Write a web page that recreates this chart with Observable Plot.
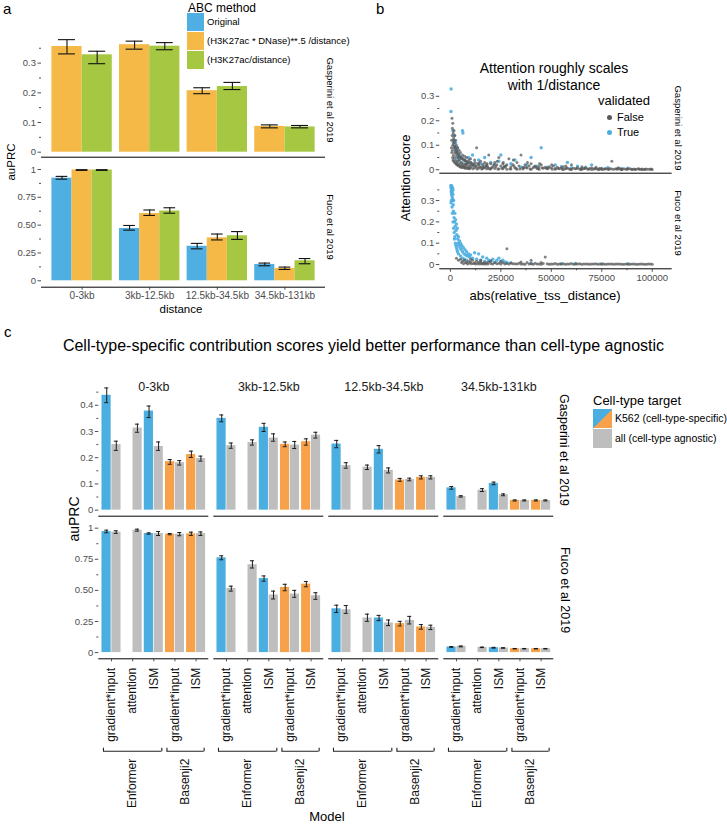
<!DOCTYPE html>
<html><head><meta charset="utf-8">
<script src="https://cdn.jsdelivr.net/npm/d3@7"></script>
<script src="https://cdn.jsdelivr.net/npm/@observablehq/plot@0.6"></script>
<style>
body{margin:0;background:#fff;}
#fig{position:relative;width:727px;height:828px;overflow:hidden;font-family:"Liberation Sans",Arial,Helvetica,sans-serif;color:#000;background:#fff;}
#fig svg{position:absolute;left:0;}
.t{position:absolute;white-space:nowrap;line-height:1;}
.sw{position:absolute;}
</style></head><body><div id="fig"></div><script>
// ================= DATA =================
const distances = ["0-3kb","3kb-12.5kb","12.5kb-34.5kb","34.5kb-131kb"];
// ---- panel a ----
const aMethods = ["Original","(H3K27ac * DNase)**.5 /distance)","(H3K27ac/distance)"];
const aColors = ["#4FAFE3","#F5B947","#A5C742"];
// Gasperini et al 2019 (no "Original")
const aGasDnaseMean = [0.356,0.362,0.207,0.087];
const aGasDnaseLo   = [0.331,0.347,0.197,0.082];
const aGasDnaseHi   = [0.379,0.374,0.217,0.092];
const aGasH3Mean    = [0.328,0.357,0.221,0.085];
const aGasH3Lo      = [0.298,0.345,0.211,0.082];
const aGasH3Hi      = [0.340,0.369,0.235,0.090];
// Fuco et al 2019
const aFucOrigMean  = [0.922,0.470,0.310,0.147];
const aFucOrigLo    = [0.913,0.455,0.287,0.135];
const aFucOrigHi    = [0.938,0.497,0.336,0.159];
const aFucDnaseMean = [0.995,0.605,0.386,0.111];
const aFucDnaseLo   = [0.992,0.587,0.367,0.102];
const aFucDnaseHi   = [0.998,0.636,0.420,0.123];
const aFucH3Mean    = [0.995,0.627,0.405,0.180];
const aFucH3Lo      = [0.992,0.607,0.372,0.153];
const aFucH3Hi      = [0.998,0.656,0.442,0.200];
const aGasTicks = [0,0.1,0.2,0.3], aGasTickLabels = ["0","0.1","0.2","0.3"];
const aGasMinor = [0.05,0.15,0.25,0.35];
const aFucTicks = [0,0.25,0.5,0.75,1], aFucTickLabels = ["0","0.25","0.50","0.75","1"];
const aFucMinor = [0.125,0.375,0.625,0.875];

// ---- panel b (x in thousands of bp, y attention score) ----
const bGasFalse = [[0.6,0.12],[0.8,0.21],[0.9,0.14],[1.0,0.17],[1.0,0.08],[1.2,0.19],[1.2,0.10],[1.4,0.15],[1.5,0.06],[1.6,0.13],[1.8,0.16],[1.8,0.09],[2.0,0.11],[2.0,0.05],[2.2,0.14],[2.2,0.07],[2.4,0.09],[2.5,0.04],[2.6,0.12],[2.8,0.08],[3.0,0.10],[3.0,0.03],[3.0,0.06],[3.3,0.07],[3.5,0.035],[3.6,0.09],[3.8,0.05],[4.0,0.06],[4.0,0.025],[4.3,0.08],[4.5,0.04],[4.7,0.05],[5.0,0.07],[5.0,0.02],[5.5,0.045],[5.5,0.03],[6.0,0.06],[6.0,0.018],[6.5,0.04],[6.5,0.025],[7.0,0.055],[7.0,0.015],[7.5,0.035],[7.5,0.022],[8.0,0.05],[8.0,0.02],[8.5,0.03],[9.0,0.03],[9.0,0.012],[9.5,0.02],[10,0.045],[10,0.01],[11,0.025],[11,0.015],[11.5,0.02],[12,0.04],[12,0.008],[13,0.09],[13,0.012],[13.5,0.025],[14,0.02],[14,0.006],[15,0.035],[15,0.01],[16,0.015],[16,0.005],[17,0.03],[17,0.008],[17.5,0.015],[18,0.02],[18,0.004],[19,0.06],[19,0.006],[20,0.025],[20,0.004],[21,0.012],[21.5,0.02],[22,0.03],[22,0.005],[23,0.02],[24,0.05],[24,0.003],[25,0.015],[26,0.025],[26,0.004],[26.5,0.012],[27,0.01],[28,0.02],[28,0.002],[29,0.045],[30,0.012],[30,0.003],[31,0.02],[31.5,0.015],[32,0.008],[33,0.03],[33,0.002],[34,0.015],[35,0.06],[36,0.01],[36,0.003],[36.5,0.008],[37,0.02],[38,0.007],[39,0.015],[40,0.025],[40,0.002],[41,0.008],[42,0.015],[42.5,0.01],[43,0.005],[44,0.012],[44,0.002],[45,0.02],[46,0.006],[47,0.01],[47.5,0.006],[48,0.004],[49,0.012],[50,0.008],[51,0.015],[52,0.005],[52,0.002],[53,0.01],[54,0.004],[55,0.008],[56,0.012],[56,0.001],[57,0.004],[58,0.007],[59,0.003],[60,0.02],[60,0.001],[61,0.006],[62,0.004],[63,0.008],[64,0.003],[65,0.006],[65,0.001],[66,0.004],[67,0.007],[68,0.003],[69,0.005],[70,0.008],[70,0.001],[71,0.003],[72,0.005],[73,0.002],[74,0.004],[75,0.006],[75,0.001],[76,0.002],[77,0.004],[78,0.003],[79,0.005],[80,0.035],[80,0.003],[81,0.002],[82,0.004],[83,0.003],[84,0.005],[85,0.002],[85,0.001],[86,0.004],[87,0.002],[88,0.003],[89,0.004],[90,0.002],[90,0.001],[91,0.003],[92,0.002],[93,0.004],[94,0.002],[95,0.003],[95,0.001],[96,0.001],[97,0.003],[98,0.002],[99,0.002],[100,0.001],
 [0.5,0.09],[0.7,0.07],[1.1,0.05],[1.3,0.04],[1.7,0.035],[2.1,0.03],[2.7,0.025],[3.2,0.02],[3.7,0.018],[4.2,0.015],[4.8,0.012],[5.2,0.01],[5.8,0.009],[6.3,0.012],[6.8,0.008],[7.3,0.006],[7.8,0.01],[8.3,0.005],[8.8,0.008],[9.3,0.004],[9.8,0.006],[10.5,0.02],[11.2,0.004],[12.5,0.015],[13.2,0.003],[14.5,0.012],[15.5,0.003],[16.5,0.01],[18.5,0.012],[19.5,0.003],[20.5,0.008],[22.5,0.012],[23.5,0.003],[25.5,0.006],[27.5,0.015],[29.5,0.004],[32.5,0.006],[34.5,0.003],[37.5,0.01],[39.5,0.003],[41.5,0.012],[43.5,0.004],[45.5,0.008],[48.5,0.006],[50.5,0.002],[53.5,0.005],[55.5,0.002],[57.5,0.006],[59.5,0.002],[62.5,0.005],[64.5,0.002],[66.5,0.005],[68.5,0.002],[71.5,0.004],[73.5,0.001],[76.5,0.004],[78.5,0.001],[82.5,0.003],[84.5,0.001],[87.5,0.003],[91.5,0.001],[93.5,0.003],[96.5,0.002],[99.5,0.003],[1.4,0.11],[1.9,0.12],[2.3,0.095],[2.9,0.085],[3.4,0.075],[3.9,0.065],[4.4,0.055],[5.3,0.05],[6.2,0.045],[7.2,0.04],[8.2,0.035],[9.2,0.04],[10.2,0.03],[12.2,0.03],[14.2,0.028],[16.2,0.022],[18.2,0.025],[23.2,0.035],[26.2,0.03],[31.2,0.04],[38.2,0.03],[44.2,0.025],[50.2,0.02],[57.2,0.015],[65.2,0.012],[72.2,0.01],[83.2,0.008]];
const bGasTrue = [[0.35,0.33],[0.3,0.238],[1.2,0.16],[1.5,0.12],[1.8,0.10],[2.0,0.14],[2.3,0.08],[2.6,0.11],[3.0,0.07],[3.2,0.05],[3.5,0.09],[4.0,0.04],[4.5,0.06],[5.0,0.03],[5.5,0.05],[6.0,0.16],[6.2,0.15],[7,0.04],[8,0.025],[9,0.05],[10,0.03],[11,0.06],[12,0.02],[14,0.04],[15,0.025],[17,0.05],[18,0.015],[20,0.03],[22,0.02],[24,0.035],[25,0.06],[27,0.015],[30,0.025],[32,0.04],[35,0.01],[38,0.02],[40,0.05],[43,0.015],[45,0.09],[48,0.01],[52,0.02],[55,0.012],[58,0.03],[60,0.008],[63,0.015],[67,0.01],[70,0.02],[74,0.005],[78,0.008],[85,0.004],[88,0.006]];
const bFucTrue = [[0.2,0.37],[0.3,0.36],[0.5,0.35],[0.4,0.34],[0.6,0.33],[0.7,0.36],[0.8,0.32],[0.9,0.34],[1.0,0.31],[1.1,0.30],[0.3,0.29],[1.2,0.33],[1.4,0.28],[1.5,0.25],[1.6,0.30],[1.8,0.22],[2.0,0.20],[2.0,0.12],[2.2,0.24],[2.4,0.18],[2.5,0.10],[2.6,0.21],[2.8,0.16],[3.0,0.19],[3.0,0.08],[3.2,0.14],[3.4,0.17],[3.5,0.06],[3.6,0.12],[3.8,0.10],[4.0,0.13],[4.0,0.05],[4.2,0.09],[4.5,0.11],[4.8,0.08],[5.0,0.10],[5.0,0.04],[5.3,0.07],[5.6,0.09],[6.0,0.06],[6.0,0.03],[6.4,0.08],[6.8,0.05],[7.0,0.025],[7.2,0.07],[7.6,0.045],[8.0,0.06],[8.0,0.02],[8.5,0.04],[9.0,0.05],[9.5,0.035],[10,0.045],[11,0.03],[12,0.055],[13,0.025],[14,0.05],[15,0.02],[16,0.035],[17,0.015],[18,0.03],[19,0.02],[20,0.015],[21,0.025],[22,0.01],[23,0.02],[24,0.03],[25,0.015],[26,0.02],[27,0.012],[28,0.01],[30,0.008],[40,0.006],[55,0.004],[62,0.005],[75,0.003],[88,0.003],
 [0.5,0.30],[0.8,0.27],[1.0,0.24],[1.3,0.20],[1.6,0.17],[1.9,0.15],[2.2,0.13],[2.7,0.09],[3.3,0.07],[1.1,0.36],[0.6,0.37],[1.3,0.35]];
const bFucFalse = [[3,0.03],[4,0.02],[5,0.025],[5.5,0.01],[6,0.015],[7,0.02],[7.5,0.008],[8,0.01],[9,0.015],[9.5,0.006],[10,0.012],[11,0.02],[11.5,0.005],[12,0.008],[13,0.015],[13.5,0.004],[14,0.01],[15,0.012],[15.5,0.004],[16,0.006],[17,0.01],[17.5,0.003],[18,0.008],[19,0.012],[20,0.005],[21,0.003],[22,0.01],[24,0.006],[25,0.002],[26,0.008],[28,0.074],[28,0.005],[29,0.002],[30,0.007],[32,0.004],[33,0.002],[34,0.006],[36,0.003],[37,0.001],[38,0.01],[40,0.02],[40,0.004],[41,0.001],[42,0.006],[44,0.003],[45,0.001],[46,0.005],[47,0.035],[48,0.004],[49,0.001],[50,0.003],[52,0.005],[53,0.001],[54,0.002],[56,0.004],[57,0.001],[58,0.003],[60,0.005],[61,0.001],[62,0.002],[64,0.004],[65,0.001],[66,0.002],[68,0.003],[69,0.001],[70,0.002],[72,0.004],[73,0.001],[74,0.002],[76,0.003],[77,0.001],[78,0.002],[80,0.003],[81,0.001],[82,0.002],[84,0.003],[85,0.001],[86,0.001],[88,0.002],[89,0.001],[90,0.002],[92,0.001],[93,0.001],[94,0.002],[96,0.001],[97,0.001],[98,0.002],[100,0.001],
 [6.5,0.004],[8.5,0.003],[10.5,0.004],[12.5,0.002],[14.5,0.003],[16.5,0.002],[18.5,0.003],[23,0.004],[27,0.003],[31,0.004],[35,0.002],[39,0.003],[43,0.002],[51,0.002],[55,0.003],[59,0.002],[63,0.003],[67,0.002],[71,0.003],[75,0.002],[79,0.003],[83,0.002],[87,0.003],[91,0.002],[95,0.003],[99,0.002],[10,0.025],[15,0.02],[20,0.018],[25,0.015],[35,0.012],[45,0.01]];
const bGasTicks = [0,0.1,0.2,0.3], bGasTickLabels = ["0","0.1","0.2","0.3"], bGasMinor = [0.05,0.15,0.25];
const bFucTicks = [0,0.1,0.2,0.3], bFucTickLabels = ["0","0.1","0.2","0.3"], bFucMinor = [0.05,0.15,0.25,0.35];
const bXTicks = [0,25000,50000,75000,100000], bXMinor = [12500,37500,62500,87500];

// ---- panel c ----
const cGroups = ["Enformer|gradient*input","Enformer|attention","Enformer|ISM","Basenji2|gradient*input","Basenji2|ISM"];
const cColorDomain = ["Enformer","Basenji2","all"];
const cColors = ["#4BAEE0","#F7A24A","#BEBEBE"];
// [mean, lo, hi] per distance (rows) and model/method (columns)
const cGasK562 = [
 [[0.438,0.410,0.466], null, [0.378,0.353,0.397], [0.185,0.175,0.193], [0.212,0.201,0.225]],
 [[0.350,0.337,0.363], null, [0.316,0.300,0.331], [0.251,0.242,0.260], [0.261,0.248,0.272]],
 [[0.252,0.238,0.266], null, [0.232,0.218,0.246], [0.115,0.110,0.121], [0.125,0.119,0.131]],
 [[0.085,0.080,0.090], null, [0.102,0.097,0.107], [0.037,0.035,0.039], [0.037,0.035,0.039]]];
const cGasAll = [
 [[0.250,0.228,0.263],[0.313,0.297,0.328],[0.243,0.228,0.260],[0.181,0.172,0.189],[0.197,0.187,0.206]],
 [[0.246,0.236,0.256],[0.258,0.248,0.268],[0.275,0.263,0.291],[0.248,0.235,0.262],[0.286,0.275,0.297]],
 [[0.170,0.160,0.181],[0.164,0.155,0.172],[0.152,0.142,0.161],[0.117,0.112,0.122],[0.125,0.119,0.131]],
 [[0.052,0.050,0.055],[0.076,0.071,0.082],[0.059,0.055,0.062],[0.037,0.035,0.039],[0.037,0.035,0.039]]];
const cFucK562 = [
 [[0.973,0.963,0.984], null, [0.957,0.952,0.962], [0.952,0.947,0.957], [0.955,0.942,0.968]],
 [[0.762,0.746,0.778], null, [0.595,0.574,0.616], [0.524,0.497,0.549], [0.550,0.529,0.571]],
 [[0.352,0.322,0.381], null, [0.278,0.257,0.299], [0.233,0.214,0.251], [0.206,0.188,0.225]],
 [[0.045,0.042,0.048], null, [0.039,0.036,0.042], [0.031,0.029,0.033], [0.031,0.029,0.033]]];
const cFucAll = [
 [[0.968,0.958,0.979],[0.984,0.976,0.992],[0.957,0.941,0.973],[0.952,0.939,0.965],[0.957,0.941,0.970]],
 [[0.516,0.494,0.534],[0.706,0.680,0.738],[0.463,0.431,0.494],[0.470,0.444,0.500],[0.457,0.428,0.481]],
 [[0.344,0.315,0.378],[0.278,0.251,0.309],[0.238,0.217,0.262],[0.259,0.230,0.291],[0.203,0.185,0.220]],
 [[0.050,0.046,0.053],[0.042,0.040,0.044],[0.037,0.035,0.039],[0.031,0.029,0.033],[0.031,0.029,0.033]]];
const cGasTicks = [0,0.1,0.2,0.3,0.4], cGasTickLabels = ["0","0.1","0.2","0.3","0.4"], cGasMinor = [0.05,0.15,0.25,0.35,0.45];
const cFucTicks = [0,0.25,0.5,0.75,1], cFucTickLabels = ["0","0.25","0.50","0.75","1"], cFucMinor = [0.125,0.375,0.625,0.875];
const cBrackets = [{model:"Enformer", from: cGroups[0], to: cGroups[2]}, {model:"Basenji2", from: cGroups[3], to: cGroups[4]}];

// ================= HELPERS =================
const FONT = '"Liberation Sans", Arial, Helvetica, sans-serif';
const STYLE = `background: transparent; overflow: visible; font-family: ${FONT}; font-size: 10px; color: #4D4D4D;`;
const fig = document.getElementById("fig");
function place(svg, top) { svg.style.position = "absolute"; svg.style.left = "0px"; svg.style.top = top + "px"; fig.appendChild(svg); }
function T(txt, x, y, size, {rot = 0, anchor = "middle", color = "#000"} = {}) {
  const d = document.createElement("div");
  d.className = "t"; d.textContent = txt;
  d.style.fontSize = size + "px"; d.style.color = color;
  d.style.left = x + "px"; d.style.top = y + "px";
  const tx = anchor === "start" ? "0" : anchor === "end" ? "-100%" : "-50%";
  d.style.transform = `translate(${tx},-50%)` + (rot ? ` rotate(${rot}deg)` : "");
  fig.appendChild(d);
}
function SW(x, y, w, h, bg, radius) {
  const d = document.createElement("div"); d.className = "sw";
  Object.assign(d.style, {left: x + "px", top: y + "px", width: w + "px", height: h + "px", background: bg});
  if (radius) d.style.borderRadius = "50%";
  fig.appendChild(d);
}
function yAxes(major, labels, minor, fs) {
  return [
    Plot.axisY({ticks: minor, tickSize: 2, tickFormat: () => "", label: null}),
    Plot.axisY({ticks: major, tickSize: 3.5, tickPadding: 2, tickFormat: d => labels[major.indexOf(d)], fontSize: fs, label: null, line: true})
  ];
}

// ================= PANEL A =================
const aPadIn = 0.107, aPadOut = 0.1535;
const aXs = d3.scaleBand().domain(distances).range([41, 325]).paddingInner(aPadIn).paddingOuter(aPadOut);
const aBw = aXs.bandwidth();
function aSeries(method, mean, lo, hi) { return distances.map((dist, i) => ({dist, method, mean: mean[i], lo: lo[i], hi: hi[i]})); }
function aPlot(series, yDomain, ticks, labels, minor, top, height, mt, mb, withX, capFrac) {
  const k = series.length, marks = [];
  series.forEach((data, slot) => {
    const off = -aBw / 2 + (slot + 0.5) * aBw / k, capW = capFrac * aBw / k;
    marks.push(Plot.barY(data, {x: "dist", y: "mean", fill: "method", insetLeft: slot * aBw / k, insetRight: (k - 1 - slot) * aBw / k}));
    marks.push(Plot.ruleX(data, {x: "dist", y1: "lo", y2: "hi", dx: off, stroke: "#111", strokeWidth: 1.1}));
    for (const yk of ["lo", "hi"]) marks.push(Plot.tickY(data, {x: "dist", y: yk, insetLeft: aBw / 2 + off - capW / 2, insetRight: aBw / 2 - off - capW / 2, stroke: "#111", strokeWidth: 1.1}));
  });
  marks.push(Plot.ruleY([yDomain[0]], {stroke: "#000", strokeWidth: 1}));
  marks.push(...yAxes(ticks, labels, minor, 9.5));
  if (withX) marks.push(Plot.axisX({tickSize: 3, tickPadding: 2, fontSize: 10, label: null}));
  const p = Plot.plot({
    width: 340, height, marginLeft: 41, marginRight: 15, marginTop: mt, marginBottom: mb, style: STYLE,
    x: {domain: distances, paddingInner: aPadIn, paddingOuter: aPadOut, round: false, axis: null},
    y: {domain: yDomain, axis: null},
    color: {domain: aMethods, range: aColors},
    marks
  });
  place(p, top);
}
aPlot([aSeries(aMethods[1], aGasDnaseMean, aGasDnaseLo, aGasDnaseHi), aSeries(aMethods[2], aGasH3Mean, aGasH3Lo, aGasH3Hi)],
  [-0.0168, 0.3987], aGasTicks, aGasTickLabels, aGasMinor, 30, 128.7, 3.3, 2, false, 0.56);
aPlot([aSeries(aMethods[0], aFucOrigMean, aFucOrigLo, aFucOrigHi), aSeries(aMethods[1], aFucDnaseMean, aFucDnaseLo, aFucDnaseHi), aSeries(aMethods[2], aFucH3Mean, aFucH3Lo, aFucH3Hi)],
  [-0.0575, 1.060], aFucTicks, aFucTickLabels, aFucMinor, 160, 156.7, 2.3, 30, true, 0.58);
T("a", 3, 8, 15, {anchor: "start"});
T("auPRC", 12, 162, 11.5, {rot: -90});
T("distance", 181, 310, 11.5);
T("Gasperini et al 2019", 330, 100, 9.5, {rot: 90});
T("Fuco et al 2019", 330, 227, 9.5, {rot: 90});
// legend a
T("ABC method", 188, 8, 12, {anchor: "start"});
aMethods.forEach((m, i) => { SW(187, 13 + i * 19, 17, 18, aColors[i]); T(m, 207, 22 + i * 19, 9.5, {anchor: "start"}); });

// ================= PANEL B =================
function bPlot(falsePts, truePts, yDomain, ticks, labels, minor, top, height, mt, mb, withX) {
  const marks = [
    Plot.dot(truePts, {x: d => d[0] * 1000, y: d => d[1], r: 1.7, fill: "#4BAEE0", fillOpacity: 0.9}),
    Plot.dot(falsePts, {x: d => d[0] * 1000, y: d => d[1], r: 1.5, fill: "#5A5A5A", fillOpacity: 0.75}),
    Plot.ruleY([yDomain[0]], {stroke: "#000", strokeWidth: 1}),
    ...yAxes(ticks, labels, minor, 9.5)
  ];
  if (withX) {
    marks.push(Plot.axisX({ticks: bXMinor, tickSize: 2, tickFormat: () => "", label: null}));
    marks.push(Plot.axisX({ticks: bXTicks, tickSize: 3.5, tickPadding: 2, fontSize: 9.5, tickFormat: d => String(d), label: null}));
  }
  const p = Plot.plot({
    width: 690, height, marginLeft: 439.3, marginRight: 18.3, marginTop: mt, marginBottom: mb, style: STYLE,
    x: {domain: [-5250, 109900], axis: null},
    y: {domain: yDomain, axis: null},
    marks
  });
  place(p, top);
}
bPlot(bGasFalse, bGasTrue, [-0.014, 0.351], bGasTicks, bGasTickLabels, bGasMinor, 80, 94.7, 3.3, 2, false);
bPlot(bFucFalse, bFucTrue, [-0.02, 0.402], bFucTicks, bFucTickLabels, bFucMinor, 176, 114.3, 2.3, 22, true);
T("b", 376, 8, 15, {anchor: "start"});
T("Attention roughly scales", 554, 68, 14);
T("with 1/distance", 554, 85, 14);
T("Attention score", 405, 178, 13, {rot: -90});
T("abs(relative_tss_distance)", 545, 295, 13);
T("Gasperini et al 2019", 678, 128, 9.5, {rot: 90});
T("Fuco et al 2019", 678, 223, 9.5, {rot: 90});
T("validated", 598, 100, 13, {anchor: "start"});
SW(606.5, 114.5, 5, 5, "#5A5A5A", true); T("False", 617, 117, 11, {anchor: "start"});
SW(606.5, 129.5, 5, 5, "#4BAEE0", true); T("True", 617, 132, 11, {anchor: "start"});

// ================= PANEL C =================
const cFxPad = 5 / 115, cPadIn = 0.1, cPadOut = 0.15;
const cFacetW = d3.scaleBand().domain(distances).range([0, 455]).paddingInner(cFxPad).paddingOuter(0).bandwidth();
const cXs = d3.scaleBand().domain(cGroups).range([0, cFacetW]).paddingInner(cPadIn).paddingOuter(cPadOut);
const cBw = cXs.bandwidth(), cStep = cXs.step();
function cRows(k562, all) {
  const rows = [];
  distances.forEach((dist, i) => cGroups.forEach((g, j) => {
    const k = k562[i][j]; if (k) rows.push({dist, group: g, type: "K562", model: g.split("|")[0], mean: k[0], lo: k[1], hi: k[2]});
    const a = all[i][j]; if (a) rows.push({dist, group: g, type: "all", model: "all", mean: a[0], lo: a[1], hi: a[2]});
  }));
  return rows;
}
function cPlot(rows, yDomain, ticks, labels, minor, top, height, mt, mb, isTop) {
  const K = rows.filter(r => r.type === "K562"), A = rows.filter(r => r.type === "all");
  const half = cBw / 2, q = cBw / 4, gap = 0.35, capW = 4;
  const marks = [
    Plot.barY(K, {fx: "dist", x: "group", y: "mean", fill: "model", insetRight: half + gap}),
    Plot.barY(A, {fx: "dist", x: "group", y: "mean", fill: "model", insetLeft: half + gap})
  ];
  for (const [D, off] of [[K, -q], [A, q]]) {
    marks.push(Plot.ruleX(D, {fx: "dist", x: "group", y1: "lo", y2: "hi", dx: off, stroke: "#1a1a1a", strokeWidth: 1}));
    for (const yk of ["lo", "hi"]) marks.push(Plot.tickY(D, {fx: "dist", x: "group", y: yk, insetLeft: half + off - capW / 2, insetRight: half - off - capW / 2, stroke: "#1a1a1a", strokeWidth: 1}));
  }
  marks.push(Plot.ruleY([yDomain[0]], {stroke: "#000", strokeWidth: 1}));
  marks.push(...yAxes(ticks, labels, minor, 9.5));
  if (isTop) {
    marks.push(Plot.text(distances, {fx: d => d, text: d => d, frameAnchor: "top", dy: -1, fontSize: 12.5, fill: "#1a1a1a"}));
  } else {
    marks.push(Plot.axisX({tickSize: 3, tickPadding: 6, tickRotate: -90, fontSize: 12, tickFormat: g => g.split("|")[1], label: null, fill: "#111"}));
    const br = distances.flatMap(dist => cBrackets.map(b => ({dist, ...b})));
    const BY = 92.4, y0 = () => yDomain[0], bs = {stroke: "#222", strokeWidth: 1.1};
    marks.push(Plot.ruleY(br, {fx: "dist", x1: "from", x2: "to", y: y0, dy: BY, insetLeft: 1.5, insetRight: 1.5, ...bs}));
    marks.push(Plot.ruleX(br, {fx: "dist", x: "from", y1: y0, y2: y0, dx: -half + 1.5, dy: BY + 0.5, insetBottom: 3.5, ...bs}));
    marks.push(Plot.ruleX(br, {fx: "dist", x: "to", y1: y0, y2: y0, dx: half - 1.5, dy: BY + 0.5, insetBottom: 3.5, ...bs}));
    marks.push(Plot.text(br.filter(b => b.model === "Enformer"), {fx: "dist", x: () => cGroups[1], y: y0, dy: BY + 7.5, text: "model", rotate: -90, textAnchor: "end", fontSize: 12, fill: "#111"}));
    marks.push(Plot.text(br.filter(b => b.model === "Basenji2"), {fx: "dist", x: () => cGroups[3], y: y0, dx: cStep / 2, dy: BY + 7.5, text: "model", rotate: -90, textAnchor: "end", fontSize: 12, fill: "#111"}));
  }
  const p = Plot.plot({
    width: 570, height, marginLeft: 98.3, marginRight: 16.7, marginTop: mt, marginBottom: mb, style: STYLE,
    fx: {domain: distances, paddingInner: cFxPad, paddingOuter: 0, round: false, axis: null},
    x: {domain: cGroups, paddingInner: cPadIn, paddingOuter: cPadOut, round: false, axis: null},
    y: {domain: yDomain, axis: null},
    color: {domain: cColorDomain, range: cColors},
    marks
  });
  place(p, top);
}
cPlot(cRows(cGasK562, cGasAll), [-0.023, 0.483], cGasTicks, cGasTickLabels, cGasMinor, 370, 147.7, 13, 2, true);
cPlot(cRows(cFucK562, cFucAll), [-0.05, 1.04], cFucTicks, cFucTickLabels, cFucMinor, 515, 313, 7.7, 169.7, false);
T("c", 4, 331, 15, {anchor: "start"});
T("Cell-type-specific contribution scores yield better performance than cell-type agnostic", 363.5, 346, 16);
T("auPRC", 74, 519, 14, {rot: -90});
T("Model", 327, 816, 13);
T("Gasperini et al 2019", 564, 450, 12.5, {rot: 90});
T("Fuco et al 2019", 565, 590, 12.5, {rot: 90});
T("Cell-type target", 593, 400, 13, {anchor: "start"});
SW(593, 409, 18.5, 18.5, `linear-gradient(to bottom right, ${cColors[0]} 50%, ${cColors[1]} 50%)`);
SW(593, 429, 18.5, 18.5, cColors[2]);
T("K562 (cell-type-specific)", 615, 418, 10.5, {anchor: "start"});
T("all (cell-type agnostic)", 615, 438, 10.5, {anchor: "start"});
</script></body></html>
